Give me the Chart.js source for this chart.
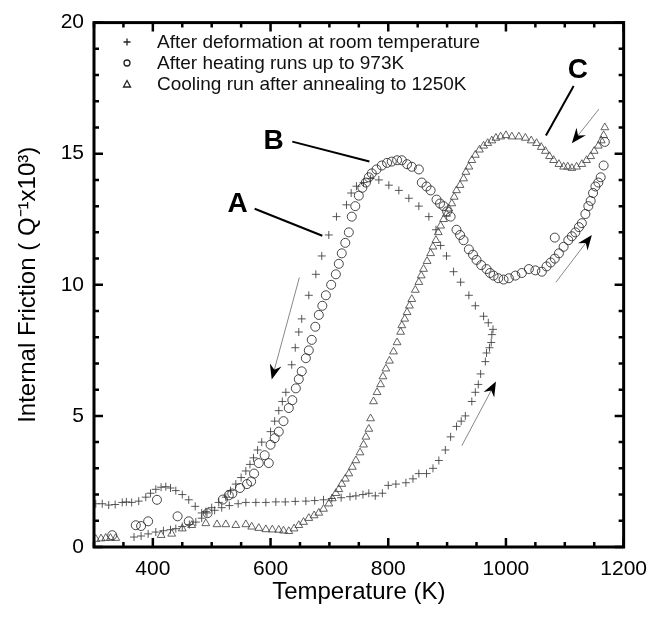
<!DOCTYPE html>
<html>
<head>
<meta charset="utf-8">
<script src="https://cdn.jsdelivr.net/npm/chart.js@4.4.1/dist/chart.umd.min.js"></script>
<style>
  body { margin: 0; background: #fff; }
  canvas { display: block; }
</style>
</head>
<body>
<canvas id="chart" width="657" height="617"></canvas>
<script>
// after deformation at room temperature (+), in measuring order
const tempDeform = [368, 380, 392, 405, 418, 430, 439, 450, 462, 473, 483, 492, 505, 517, 530, 545, 558, 575, 592, 609,
  625, 642, 660, 675, 690, 704, 720, 735, 745, 757, 767, 778, 790, 800, 813, 830, 842, 852, 865, 876,
  886, 897, 906, 916, 924, 931, 942, 948, 953, 957, 965, 967, 972, 975, 976, 978, 970, 962, 948, 937,
  923, 911, 899, 889, 881, 869, 852, 835, 818, 801, 784, 770, 758, 746, 737, 729, 712, 699, 687, 677,
  665, 653, 648, 642, 636, 626, 620, 614, 607, 600, 585, 578, 571, 565, 558, 550, 541, 532, 524, 512,
  500, 490, 483, 472, 461, 450, 439, 430, 422, 414, 405, 396, 388, 376, 364, 355, 348, 336, 325, 314, 303]
const qDeform = [0.38, 0.42, 0.5, 0.57, 0.62, 0.66, 0.7, 0.78, 0.86, 0.95, 1.1, 1.3, 1.4, 1.5, 1.58, 1.65, 1.7, 1.7, 1.7, 1.72,
  1.72, 1.74, 1.75, 1.77, 1.8, 1.85, 1.88, 1.92, 1.95, 2.0, 2.05, 1.95, 2.05, 2.35, 2.4, 2.45, 2.6, 2.8, 2.8, 3.0,
  3.3, 3.7, 4.2, 4.6, 4.8, 5.0, 5.55, 5.9, 6.2, 6.6, 7.07, 7.4, 7.6, 7.8, 8.1, 8.3, 8.55, 8.8, 9.2, 9.6,
  10.1, 10.5, 11.1, 11.5, 12.1, 12.6, 13.0, 13.3, 13.6, 13.8, 14.0, 14.05, 13.9, 13.76, 13.5, 13.05, 12.6, 11.9, 11.1, 10.4,
  9.6, 8.7, 8.2, 7.6, 6.95, 5.9, 5.55, 5.2, 4.8, 4.4, 4.0, 3.7, 3.4, 3.15, 2.9, 2.65, 2.4, 2.15, 1.9, 1.7,
  1.5, 1.35, 1.3, 1.55, 1.8, 2.0, 2.15, 2.25, 2.3, 2.28, 2.2, 2.05, 1.9, 1.75, 1.7, 1.72, 1.7, 1.62, 1.6, 1.65, 1.65]

// after heating runs up to 973K (o)
const tempHeat = [331, 371, 380, 392, 407, 442, 461, 493, 519, 529, 535, 548, 560, 567, 572, 580, 597, 590, 600, 607,
  614, 622, 631, 637, 643, 648, 653, 660, 665, 670, 676, 682, 688, 694, 703, 711, 716, 721, 727, 733,
  738, 744, 750, 756, 762, 767, 772, 780, 789, 798, 806, 815, 823, 832, 840, 852, 857, 865, 872, 882,
  888, 894, 900, 906, 916, 922, 928, 937, 944, 950, 958, 967, 973, 979, 987, 996, 1005, 1016, 1027, 1039,
  1050, 1061, 1069, 1076, 1083, 1083, 1090, 1098, 1106, 1112, 1118, 1124, 1129, 1135, 1140, 1144, 1148, 1152, 1157, 1161,
  1166, 1168]
const qHeat = [0.45, 0.83, 0.8, 0.98, 1.8, 1.17, 0.98, 1.29, 1.81, 1.97, 2.04, 2.25, 2.4, 2.5, 2.8, 3.2, 3.2, 3.5, 3.9, 4.15,
  4.4, 4.8, 5.3, 5.6, 6.05, 6.4, 6.7, 7.2, 7.5, 7.9, 8.4, 8.85, 9.2, 9.6, 10.0, 10.4, 10.8, 11.2, 11.6, 12.0,
  12.6, 13.0, 13.4, 13.7, 13.9, 14.1, 14.25, 14.4, 14.55, 14.65, 14.7, 14.75, 14.75, 14.6, 14.5, 14.4, 13.9, 13.75, 13.6, 13.25,
  13.1, 13.0, 12.8, 12.6, 12.1, 11.9, 11.7, 11.35, 11.15, 10.95, 10.75, 10.6, 10.45, 10.35, 10.25, 10.2, 10.25, 10.35, 10.45, 10.6,
  10.55, 10.5, 10.7, 10.85, 11.0, 11.8, 11.2, 11.45, 11.7, 11.85, 12.0, 12.2, 12.35, 12.7, 13.0, 13.2, 13.5, 13.75, 13.9, 14.1,
  14.55, 15.45]

// cooling run after annealing to 1250K (triangles)
const tempCool = [1168, 1166, 1162, 1157, 1150, 1144, 1137, 1129, 1120, 1112, 1105, 1098, 1090, 1081, 1074, 1067, 1060, 1052, 1043, 1033,
  1022, 1010, 1000, 991, 983, 976, 969, 962, 955, 948, 942, 937, 932, 928, 922, 916, 912, 908, 903, 899,
  894, 889, 885, 881, 876, 872, 866, 860, 856, 852, 846, 840, 836, 832, 828, 823, 821, 815, 809, 802,
  796, 791, 787, 781, 775, 770, 767, 762, 758, 752, 745, 739, 733, 727, 721, 716, 711, 705, 699, 690,
  682, 674, 665, 656, 648, 640, 631, 622, 614, 603, 592, 580, 568, 558, 541, 524, 509, 490, 466, 450,
  432, 414, 337, 328, 320, 312, 303]
const qCool = [16.0, 15.7, 15.5, 15.3, 15.1, 14.9, 14.75, 14.6, 14.5, 14.45, 14.5, 14.5, 14.6, 14.75, 14.9, 15.1, 15.25, 15.4, 15.5, 15.6,
  15.65, 15.65, 15.7, 15.65, 15.6, 15.5, 15.4, 15.3, 15.15, 14.95, 14.75, 14.5, 14.3, 14.05, 13.8, 13.6, 13.35, 13.1, 12.9, 12.7,
  12.5, 12.25, 12.0, 11.7, 11.45, 11.2, 10.9, 10.6, 10.35, 10.1, 9.8, 9.45, 9.2, 8.95, 8.7, 8.45, 8.2, 7.8, 7.45, 7.1,
  6.8, 6.5, 6.2, 5.9, 5.55, 4.9, 4.5, 4.2, 3.9, 3.6, 3.3, 3.05, 2.8, 2.6, 2.4, 2.2, 2.05, 1.85, 1.65, 1.45,
  1.3, 1.2, 1.1, 0.95, 0.83, 0.7, 0.6, 0.62, 0.65, 0.66, 0.67, 0.72, 0.77, 0.86, 0.83, 0.86, 0.86, 0.9, 0.83, 0.7,
  0.5, 0.45, 0.34, 0.34, 0.34, 0.32, 0.3]

const seriesNames = ['After deformation at room temperature', 'After heating runs up to 973K', 'Cooling run after annealing to 1250K']
const xTicks = [400, 600, 800, 1000, 1200]
const yTicks = [0, 5, 10, 15, 20]

// labels A/B/C with leader lines, and direction arrows (data coordinates)
const notes = [
  { text: 'A', at: [544, 13.08], line: [[573, 12.9], [688, 11.87]] },
  { text: 'B', at: [605, 15.46], line: [[637, 15.46], [768, 14.7]] },
  { text: 'C', at: [1122, 18.19], line: [[1115, 17.58], [1068, 15.69]] }
]
const arrows = [
  [[649, 10.28], [602, 6.39]],
  [[925, 3.86], [983, 6.31]],
  [[1085, 10.1], [1146, 11.9]],
  [[1158, 16.7], [1112, 15.4]]
]

const FONT = "'Liberation Sans', Arial, sans-serif"
Chart.defaults.font.family = FONT
Chart.defaults.color = '#000'

const pts = (xs, ys) => xs.map((x, i) => ({ x: x, y: ys[i] }))

const framePlugin = {
  id: 'frame',
  afterDatasetsDraw(chart) {
    const ctx = chart.ctx
    const a = chart.chartArea
    const xs = chart.scales.x
    const ys = chart.scales.y
    const px = v => xs.getPixelForValue(v)
    const py = v => ys.getPixelForValue(v)
    ctx.save()

    // annotation leader lines and letters
    ctx.strokeStyle = '#000'
    ctx.lineWidth = 2
    notes.forEach(n => {
      ctx.beginPath()
      ctx.moveTo(px(n.line[0][0]), py(n.line[0][1]))
      ctx.lineTo(px(n.line[1][0]), py(n.line[1][1]))
      ctx.stroke()
      ctx.font = `bold 28px ${FONT}`
      ctx.fillStyle = '#000'
      ctx.textAlign = 'center'
      ctx.textBaseline = 'middle'
      ctx.fillText(n.text, px(n.at[0]), py(n.at[1]))
    })

    // arrows: thin grey shaft, black notched head
    arrows.forEach(ar => {
      const x0 = px(ar[0][0]), y0 = py(ar[0][1])
      const x1 = px(ar[1][0]), y1 = py(ar[1][1])
      const ang = Math.atan2(y1 - y0, x1 - x0)
      ctx.strokeStyle = '#888'
      ctx.lineWidth = 1
      ctx.beginPath()
      ctx.moveTo(x0, y0)
      ctx.lineTo(x1 - 8 * Math.cos(ang), y1 - 8 * Math.sin(ang))
      ctx.stroke()
      ctx.save()
      ctx.translate(x1, y1)
      ctx.rotate(ang)
      ctx.fillStyle = '#000'
      ctx.beginPath()
      ctx.moveTo(0, 0)
      ctx.lineTo(-15, -6)
      ctx.lineTo(-10, 0)
      ctx.lineTo(-15, 6)
      ctx.closePath()
      ctx.fill()
      ctx.restore()
    })

    // frame with inward ticks on all sides
    ctx.strokeStyle = '#000'
    ctx.lineWidth = 3
    ctx.strokeRect(a.left, a.top, a.right - a.left, a.bottom - a.top)
    ctx.lineWidth = 2.5
    ctx.beginPath()
    for (let v = 300; v <= 1200; v += 50) {
      const len = v % 200 === 0 ? 9 : 5
      const x = px(v)
      ctx.moveTo(x, a.bottom); ctx.lineTo(x, a.bottom - len)
      ctx.moveTo(x, a.top); ctx.lineTo(x, a.top + len)
    }
    for (let v = 0; v <= 20; v += 1) {
      const len = v % 5 === 0 ? 9 : 5
      const y = py(v)
      ctx.moveTo(a.left, y); ctx.lineTo(a.left + len, y)
      ctx.moveTo(a.right, y); ctx.lineTo(a.right - len, y)
    }
    ctx.stroke()

    // legend inside the plot
    const lx = 127, tx = 157
    const rows = [42, 63, 84]
    ctx.font = `19px ${FONT}`
    ctx.textAlign = 'left'
    ctx.textBaseline = 'middle'
    ctx.fillStyle = '#111'
    rows.forEach((ry, i) => {
      ctx.strokeStyle = '#222'
      ctx.lineWidth = 1.3
      ctx.beginPath()
      if (i === 0) {
        ctx.moveTo(lx - 3.5, ry); ctx.lineTo(lx + 3.5, ry)
        ctx.moveTo(lx, ry - 3.5); ctx.lineTo(lx, ry + 3.5)
      } else if (i === 1) {
        ctx.arc(lx, ry, 3, 0, Math.PI * 2)
      } else {
        ctx.moveTo(lx, ry - 3.5); ctx.lineTo(lx + 3.5, ry + 3); ctx.lineTo(lx - 3.5, ry + 3); ctx.closePath()
      }
      ctx.stroke()
      ctx.fillText(seriesNames[i], tx, ry + 1)
    })
    ctx.restore()
  }
}

new Chart(document.getElementById('chart'), {
  type: 'scatter',
  data: {
    datasets: [
      {
        label: seriesNames[2],
        data: pts(tempCool, qCool),
        pointStyle: 'triangle',
        pointRadius: 4.5,
        borderColor: 'rgba(70,70,70,0.85)',
        backgroundColor: 'rgba(0,0,0,0)',
        borderWidth: 1
      },
      {
        label: seriesNames[1],
        data: pts(tempHeat, qHeat),
        pointStyle: 'circle',
        pointRadius: 4.5,
        borderColor: 'rgba(40,40,40,0.85)',
        backgroundColor: 'rgba(0,0,0,0)',
        borderWidth: 1
      },
      {
        label: seriesNames[0],
        data: pts(tempDeform, qDeform),
        pointStyle: 'cross',
        pointRadius: 4,
        borderColor: 'rgba(60,60,60,0.85)',
        backgroundColor: 'rgba(0,0,0,0)',
        borderWidth: 1
      }
    ]
  },
  options: {
    responsive: false,
    animation: false,
    events: [],
    layout: { padding: { top: 18, right: 32, left: 0, bottom: 0 } },
    plugins: {
      legend: { display: false },
      tooltip: { enabled: false }
    },
    scales: {
      x: {
        type: 'linear',
        min: 300,
        max: 1200,
        afterFit: s => { s.height = 70 },
        afterBuildTicks: s => { s.ticks = xTicks.map(v => ({ value: v })) },
        grid: { display: false, drawTicks: false },
        border: { display: false },
        ticks: { padding: 10, font: { size: 21 }, color: '#000', maxRotation: 0, callback: v => String(v) },
        title: { display: true, text: 'Temperature (K)', font: { size: 24 }, color: '#000', padding: { top: 0, bottom: 10 } }
      },
      y: {
        min: 0,
        max: 20,
        afterFit: s => { s.width = 94 },
        afterBuildTicks: s => { s.ticks = yTicks.map(v => ({ value: v })) },
        grid: { display: false, drawTicks: false },
        border: { display: false },
        ticks: { padding: 10, font: { size: 21 }, color: '#000', callback: v => String(v) },
        title: { display: true, text: 'Internal Friction ( Q\u207B\u00B9x10\u00B3)', font: { size: 24 }, color: '#000', padding: { top: 14, bottom: 0 } }
      }
    }
  },
  plugins: [framePlugin]
})
</script>
</body>
</html>
